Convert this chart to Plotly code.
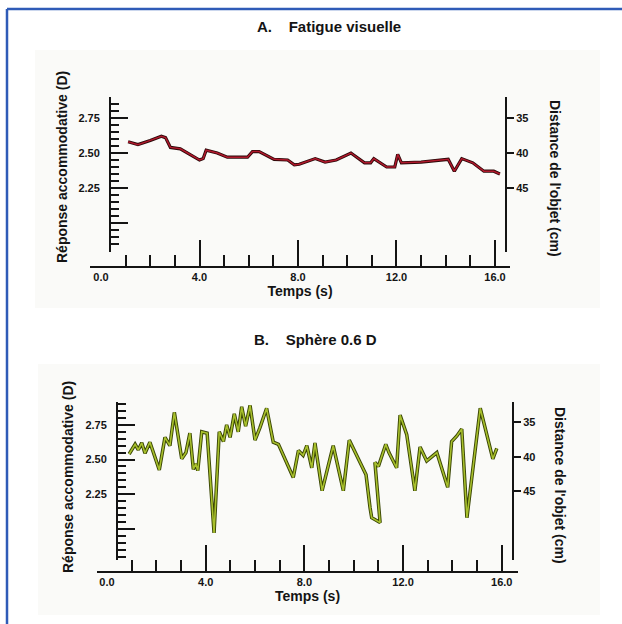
import plotly.graph_objects as go

# ---------------- data ----------------
# Panel A : Fatigue visuelle
time_a = [1.10, 1.50, 2.00, 2.45, 2.62, 2.82, 3.22, 3.63, 4.00, 4.15, 4.27, 4.72, 5.13,
          5.95, 6.15, 6.42, 7.03, 7.58, 7.85, 8.05, 8.35, 8.70, 9.10, 9.55, 10.15, 10.70,
          10.95, 11.08, 11.60, 11.93, 12.05, 12.20, 13.00, 14.10, 14.35, 14.65, 15.10,
          15.55, 15.95, 16.20]
resp_a = [2.58, 2.56, 2.59, 2.62, 2.61, 2.54, 2.53, 2.49, 2.45, 2.46, 2.52, 2.50, 2.47,
          2.47, 2.51, 2.51, 2.455, 2.45, 2.415, 2.42, 2.44, 2.46, 2.435, 2.45, 2.50, 2.43,
          2.43, 2.46, 2.40, 2.40, 2.49, 2.43, 2.435, 2.455, 2.37, 2.46, 2.43,
          2.37, 2.37, 2.35]

# Panel B : Sphère 0.6 D
time_b = [0.90, 1.14, 1.27, 1.41, 1.54, 1.74, 2.12, 2.35, 2.55, 2.73, 3.03, 3.20, 3.36,
          3.50, 3.60, 3.68, 3.84, 4.06, 4.34, 4.55, 4.72, 4.85, 4.99, 5.16, 5.32, 5.46,
          5.62, 5.80, 6.00, 6.20, 6.47, 6.74, 6.95, 7.55, 7.76, 7.95, 8.10, 8.30, 8.43,
          8.72, 9.17, 9.58, 9.82, 10.32, 10.50, 10.66, 10.73, 11.07, 10.86, 11.00, 11.30,
          11.43, 11.74, 11.88, 12.15, 12.48, 12.69, 12.96, 13.37, 13.81, 13.97, 14.18,
          14.38, 14.59, 15.13, 15.64, 15.80]
resp_b = [2.54, 2.61, 2.57, 2.62, 2.545, 2.625, 2.425, 2.66, 2.60, 2.84, 2.505, 2.55, 2.69,
          2.43, 2.47, 2.42, 2.70, 2.69, 1.97, 2.70, 2.63, 2.75, 2.66, 2.83, 2.70, 2.88,
          2.74, 2.89, 2.64, 2.73, 2.87, 2.625, 2.61, 2.37, 2.565, 2.53, 2.60, 2.44, 2.62,
          2.275, 2.60, 2.275, 2.64, 2.46, 2.39, 2.155, 2.08, 2.045, 2.48, 2.45, 2.61,
          2.55, 2.44, 2.82, 2.68, 2.275, 2.59, 2.49, 2.55, 2.30, 2.63, 2.67,
          2.72, 2.08, 2.87, 2.505, 2.58]

# ticks
time_labels_vals = [0, 4, 8, 12, 16]
time_labels_text = ["0.0", "4.0", "8.0", "12.0", "16.0"]
time_major = [4, 8, 12, 16]
time_minor = [1, 2, 3, 5, 6, 7, 9, 10, 11, 13, 14, 15]
resp_major = [2.00, 2.25, 2.50, 2.75]
resp_text = ["", "2.25", "2.50", "2.75"]
dist_vals = [35, 40, 45]
dist_text = ["35", "40", "45"]

# ---------------- layout helpers ----------------
W, H = 622, 624


def fx(p):
    return p / W


def fy(p):
    return 1 - p / H


INK = "#141414"
FONT = "Liberation Sans"
tick_font = dict(family=FONT, size=11, color=INK, weight=700)
title_font = dict(family=FONT, size=14, color=INK, weight=700)

fig = go.Figure()

# Panel A traces
fig.add_trace(go.Scatter(x=time_a, y=resp_a, mode="lines", xaxis="x", yaxis="y",
                         line=dict(color="#2a0808", width=3.2), hoverinfo="skip",
                         showlegend=False))
fig.add_trace(go.Scatter(x=time_a, y=resp_a, mode="lines", xaxis="x3", yaxis="y",
                         line=dict(color="#b0182c", width=1.5), showlegend=False))
fig.add_trace(go.Scatter(x=[], y=[], mode="lines", xaxis="x", yaxis="y2",
                         showlegend=False, hoverinfo="skip"))

# Panel B traces
fig.add_trace(go.Scatter(x=time_b, y=resp_b, mode="lines", xaxis="x2", yaxis="y3",
                         line=dict(color="#3a4604", width=3.5), hoverinfo="skip",
                         showlegend=False))
fig.add_trace(go.Scatter(x=time_b, y=resp_b, mode="lines", xaxis="x4", yaxis="y3",
                         line=dict(color="#a8c02c", width=1.6), showlegend=False))
fig.add_trace(go.Scatter(x=[], y=[], mode="lines", xaxis="x2", yaxis="y4",
                         showlegend=False, hoverinfo="skip"))


def label_xaxis(dom, rng, pos):
    return dict(domain=dom, range=rng, anchor="free", position=pos,
                showline=True, linewidth=2, linecolor=INK,
                tickmode="array", tickvals=time_labels_vals, ticktext=time_labels_text,
                ticks="", tickfont=tick_font, showgrid=False, zeroline=False,
                title=dict(text="Temps (s)", font=title_font, standoff=1))


def tick_xaxis(over, dom, rng, pos):
    return dict(overlaying=over, domain=dom, range=rng, anchor="free", position=pos,
                showline=False, showticklabels=False, showgrid=False, zeroline=False,
                tickmode="array", tickvals=time_major, ticks="inside",
                ticklen=27, tickwidth=2, tickcolor=INK,
                minor=dict(tickmode="array", tickvals=time_minor, ticks="inside",
                           ticklen=12, tickwidth=2, tickcolor=INK, showgrid=False))


def left_yaxis(dom, rng, pos):
    return dict(domain=dom, range=rng, anchor="free", position=pos,
                showline=True, linewidth=2, linecolor=INK,
                tickmode="array", tickvals=resp_major, ticktext=resp_text,
                ticks="inside", ticklen=17, tickwidth=2, tickcolor=INK,
                tickfont=tick_font, showgrid=False, zeroline=False,
                ticklabelstandoff=7,
                minor=dict(dtick=0.05, tick0=2.0, ticks="inside", ticklen=8,
                           tickwidth=1.6, tickcolor=INK, showgrid=False))


def right_yaxis(over, rng, pos):
    return dict(overlaying=over, side="right", anchor="free", position=pos, range=rng,
                showline=True, linewidth=2, linecolor=INK,
                tickmode="array", tickvals=dist_vals, ticktext=dist_text,
                ticks="outside", ticklen=7, tickwidth=2, tickcolor=INK,
                tickfont=tick_font, showgrid=False, zeroline=False)


domA_x = [fx(90), fx(510)]
rngA_x = [-0.447, 16.61]
posA_x = fy(267)
domA_y = [fy(252), fy(97)]
rngA_y = [1.793, 2.90]

domB_x = [fx(97), fx(518)]
rngB_x = [-0.405, 16.66]
posB_x = fy(572)
domB_y = [fy(560), fy(402)]
rngB_y = [1.775, 2.915]

annotations = [
    dict(text="A.\u00a0\u00a0\u00a0\u00a0Fatigue visuelle", x=fx(329), y=fy(27),
         font=dict(family=FONT, size=15, color=INK, weight=700)),
    dict(text="B.\u00a0\u00a0\u00a0\u00a0Sphère 0.6 D", x=fx(315), y=fy(339),
         font=dict(family=FONT, size=15, color=INK, weight=700)),
    dict(text="Réponse accommodative (D)", x=fx(62), y=fy(167), textangle=-90,
         font=title_font),
    dict(text="Distance de l'objet (cm)", x=fx(555), y=fy(178), textangle=90,
         font=title_font),
    dict(text="Réponse accommodative (D)", x=fx(68), y=fy(477), textangle=-90,
         font=title_font),
    dict(text="Distance de l'objet (cm)", x=fx(560), y=fy(485), textangle=90,
         font=title_font),
]
for a in annotations:
    a.update(xref="paper", yref="paper", showarrow=False, xanchor="center",
             yanchor="middle")

shapes = [
    # faint scanned-panel backgrounds
    dict(type="rect", xref="paper", yref="paper", x0=fx(35), x1=fx(600), y0=fy(308),
         y1=fy(50), fillcolor="#fafaf8", line=dict(width=0), layer="below"),
    dict(type="rect", xref="paper", yref="paper", x0=fx(38), x1=fx(600), y0=fy(615),
         y1=fy(364), fillcolor="#fafaf8", line=dict(width=0), layer="below"),
    # blue frame (left and top)
    dict(type="line", xref="paper", yref="paper", x0=fx(7), x1=fx(7), y0=0, y1=fy(9),
         line=dict(color="#2f5bb7", width=2.5)),
    dict(type="line", xref="paper", yref="paper", x0=fx(7), x1=1, y0=fy(9), y1=fy(9),
         line=dict(color="#2f5bb7", width=2.5)),
]

fig.update_layout(
    width=W, height=H,
    margin=dict(l=0, r=0, t=0, b=0),
    paper_bgcolor="white", plot_bgcolor="rgba(0,0,0,0)",
    showlegend=False,
    xaxis=label_xaxis(domA_x, rngA_x, posA_x),
    xaxis3=tick_xaxis("x", domA_x, rngA_x, posA_x),
    yaxis=left_yaxis(domA_y, rngA_y, fx(110)),
    yaxis2=right_yaxis("y", [54.14, 32.0], fx(506)),
    xaxis2=label_xaxis(domB_x, rngB_x, posB_x),
    xaxis4=tick_xaxis("x2", domB_x, rngB_x, posB_x),
    yaxis3=left_yaxis(domB_y, rngB_y, fx(117)),
    yaxis4=right_yaxis("y3", [54.93, 32.03], fx(513)),
    annotations=annotations,
    shapes=shapes,
)

fig.write_html("out.html",
               config={"displayModeBar": False},
               post_script="document.body.style.margin='0';document.body.style.overflow='hidden';")
